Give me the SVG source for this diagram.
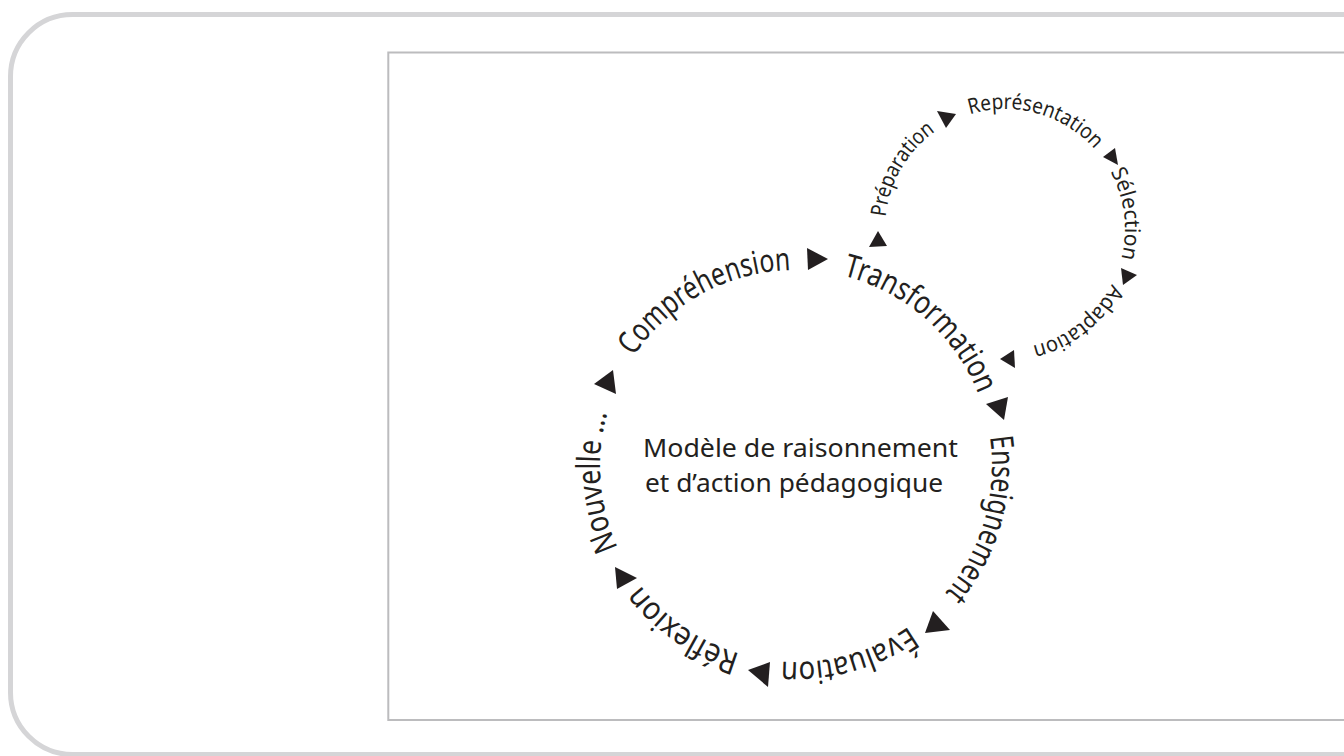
<svg xmlns="http://www.w3.org/2000/svg" xmlns:xlink="http://www.w3.org/1999/xlink" width="1344" height="756" viewBox="0 0 1344 756">
<style>
.frame{fill:none;stroke:#d5d5d7;stroke-width:5}
.panel{fill:#ffffff;stroke:#bcbcbe;stroke-width:2}
.big{font-family:"Noto Sans","Open Sans",sans-serif;font-size:32px;fill:#231f20}
.small{font-family:"Noto Sans","Open Sans",sans-serif;font-size:21.5px;fill:#231f20}
.center{font-family:"Noto Sans","Open Sans",sans-serif;font-size:26px;fill:#231f20;text-anchor:middle}
.arrow{fill:#231f20;stroke:none}
</style>
<defs>
<path id="bigA" d="M 992,466 A 196,196 0 1 1 600,466 A 196,196 0 1 1 992,466"/>
<path id="bigB" d="M 600,466 A 196,196 0 1 1 992,466 A 196,196 0 1 1 600,466"/>
<path id="smallA" d="M 1125,229 A 120,120 0 1 1 885,229 A 120,120 0 1 1 1125,229"/>
<path id="smallB" d="M 885,229 A 120,120 0 1 1 1125,229 A 120,120 0 1 1 885,229"/>
</defs>
<rect width="1344" height="756" fill="#ffffff"/>
<rect class="frame" x="10.5" y="14.5" width="1400" height="740" rx="62" ry="62"/>
<rect class="panel" x="388.3" y="52.5" width="1000" height="667.5"/>

<g id="center-label">
<text class="center" x="800.5" y="457" textLength="315" lengthAdjust="spacingAndGlyphs">Modèle de raisonnement</text>
<text class="center" x="794" y="492" textLength="298" lengthAdjust="spacingAndGlyphs">et d’action pédagogique</text>
</g>

<g id="comprehension"><text class="big" text-anchor="middle"><textPath xlink:href="#bigA" href="#bigA" startOffset="825" textLength="186" lengthAdjust="spacingAndGlyphs">Compréhension</textPath></text></g>
<g id="transformation"><text class="big" text-anchor="middle"><textPath xlink:href="#bigA" href="#bigA" startOffset="1064" textLength="187" lengthAdjust="spacingAndGlyphs">Transformation</textPath></text></g>
<g id="enseignement"><text class="big" text-anchor="middle"><textPath xlink:href="#bigB" href="#bigB" startOffset="670" textLength="168" lengthAdjust="spacingAndGlyphs">Enseignement</textPath></text></g>
<g id="evaluation"><text class="big" text-anchor="middle"><textPath xlink:href="#bigA" href="#bigA" startOffset="255" textLength="135" lengthAdjust="spacingAndGlyphs">Évaluation</textPath></text></g>
<g id="reflexion"><text class="big" text-anchor="middle"><textPath xlink:href="#bigA" href="#bigA" startOffset="426" textLength="123" lengthAdjust="spacingAndGlyphs">Réflexion</textPath></text></g>
<g id="nouvelle"><text class="big" text-anchor="middle"><textPath xlink:href="#bigA" href="#bigA" startOffset="600" textLength="138" lengthAdjust="spacingAndGlyphs">Nouvelle ...</textPath></text></g>

<g id="preparation"><text class="small" text-anchor="middle"><textPath xlink:href="#smallA" href="#smallA" startOffset="440" textLength="102" lengthAdjust="spacingAndGlyphs">Préparation</textPath></text></g>
<g id="representation"><text class="small" text-anchor="middle"><textPath xlink:href="#smallA" href="#smallA" startOffset="598" textLength="137" lengthAdjust="spacingAndGlyphs">Représentation</textPath></text></g>
<g id="selection"><text class="small" text-anchor="middle"><textPath xlink:href="#smallB" href="#smallB" startOffset="362" textLength="90" lengthAdjust="spacingAndGlyphs">Sélection</textPath></text></g>
<g id="adaptation"><text class="small" text-anchor="middle"><textPath xlink:href="#smallA" href="#smallA" startOffset="109" textLength="104" lengthAdjust="spacingAndGlyphs">Adaptation</textPath></text></g>

<g id="connectors">
<polygon class="arrow" points="807,248 828,259 808,270"/>
<polygon class="arrow" points="986,404 1008,397 1004,420"/>
<polygon class="arrow" points="925,633 933,611 950,630"/>
<polygon class="arrow" points="748,670 770,662 768,687"/>
<polygon class="arrow" points="615,567 637,578 617,589"/>
<polygon class="arrow" points="594,384 613,370 616,394"/>
<polygon class="arrow" points="869,247 878,231 887,246"/>
<polygon class="arrow" points="937,111 956,114 946,128"/>
<polygon class="arrow" points="1103,157 1115,148 1118,165"/>
<polygon class="arrow" points="1121,268 1137,275 1123,285"/>
<polygon class="arrow" points="1000,359 1014,350 1015,368"/>
</g>
</svg>
